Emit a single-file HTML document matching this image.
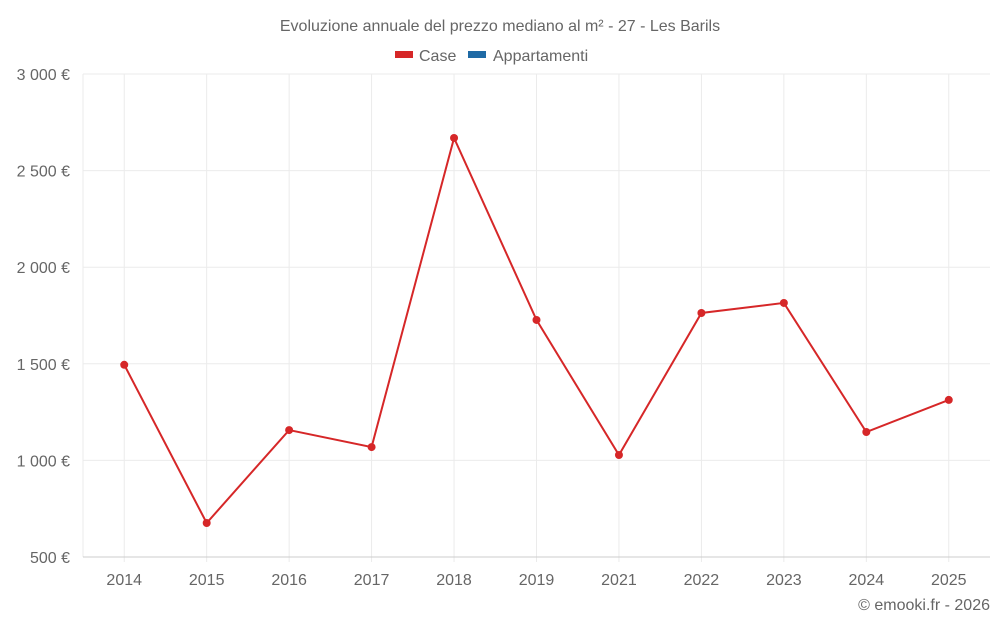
<!DOCTYPE html>
<html><head><meta charset="utf-8"><style>
body{margin:0;background:#fff;font-family:"Liberation Sans",sans-serif;}
svg text{font-family:"Liberation Sans",sans-serif;fill:#666;}
</style></head><body>
<svg id="chart" width="1000" height="625">
<text x="500" y="31" text-anchor="middle" font-size="16">Evoluzione annuale del prezzo mediano al m² - 27 - Les Barils</text>
<g>
<g><rect x="395" y="51" width="18" height="7" fill="#d62728"/><text x="419" y="61" font-size="16">Case</text></g>
<g><rect x="468" y="51" width="18" height="7" fill="#1f6aa5"/><text x="493" y="61" font-size="16">Appartamenti</text></g>
</g>
<g id="grid"></g><g id="axes"></g><g id="series"></g>
<text x="990" y="610" text-anchor="end" font-size="16">© emooki.fr - 2026</text>
</svg>
<script>
const categories=["2014","2015","2016","2017","2018","2019","2021","2022","2023","2024","2025"];
const caseValues=[1495,676,1157,1069,2669,1727,1028,1763,1815,1147,1313];
const yTicks=[500,1000,1500,2000,2500,3000];
const yTickLabels=["500 €","1 000 €","1 500 €","2 000 €","2 500 €","3 000 €"];
const L=83,R=990,T=74,B=557,yMin=500,yMax=3000;
const NS="http://www.w3.org/2000/svg";
const bw=(R-L)/categories.length;
const x=i=>L+bw*(i+0.5);
const y=v=>B-(v-yMin)/(yMax-yMin)*(B-T);
function mk(t,a,p){const e=document.createElementNS(NS,t);for(const k in a)e.setAttribute(k,a[k]);p.appendChild(e);return e;}
const g=document.getElementById('grid'),ax=document.getElementById('axes'),s=document.getElementById('series');
const lb=mk('line',{x1:L,x2:L,y1:T,y2:B,stroke:'#ebebeb'},g);


categories.forEach((c,i)=>{
 const l=mk('line',{x1:x(i),x2:x(i),y1:T,y2:B+5,stroke:'#ebebeb'},g);
 
 
});
yTicks.forEach((v,i)=>{
 const l=mk('line',{x1:L,x2:R,y1:y(v),y2:y(v),stroke:i==0?'#ccc':'#ebebeb'},g);
 
 
 const t=mk('text',{x:70,y:y(v)+6,'text-anchor':'end','font-size':16},ax);t.textContent=yTickLabels[i];
 
 
});
categories.forEach((c,i)=>{
 const t=mk('text',{x:x(i),y:585,'text-anchor':'middle','font-size':16},ax);t.textContent=c;
 
 
});
const line=mk('polyline',{points:caseValues.map((v,i)=>x(i)+','+y(v)).join(' '),fill:'none',stroke:'#d62728','stroke-width':2},s);


caseValues.forEach((v,i)=>{
 const p=mk('circle',{cx:x(i),cy:y(v),r:4,fill:'#d62728'},s);
 
 
});
</script>
</body></html>
